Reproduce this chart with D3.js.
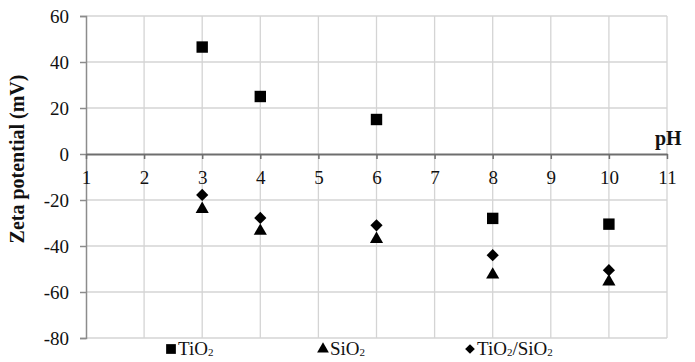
<!DOCTYPE html>
<html>
<head>
<meta charset="utf-8">
<script src="https://cdn.jsdelivr.net/npm/d3@7"></script>
<style>
  body { margin: 0; background: #fff; }
  svg text { font-family: "Liberation Serif", "Times New Roman", serif !important; }
</style>
</head>
<body>
<div id="chart"></div>
<script>
const pH = [3, 4, 6, 8, 10];
const tio2 = [46.5, 25, 15, -28, -30.5];
const sio2 = [-24, -33.5, -37, -52.5, -55.5];
const tio2sio2 = [-17.8, -27.8, -31, -44, -50.5];
const xTicks = d3.range(1, 12);
const yTicks = [60, 40, 20, 0, -20, -40, -60, -80];

const width = 695, height = 362;
const marginLeft = 86, marginRight = 28, marginTop = 16, marginBottom = 24;

const x = d3.scaleLinear([1, 11], [marginLeft, width - marginRight]);
const y = d3.scaleLinear([-80, 60], [height - marginBottom, marginTop]);

const svg = d3.select("#chart").append("svg")
    .attr("width", width)
    .attr("height", height)
    .attr("viewBox", [0, 0, width, height]);

// grid
svg.append("g")
    .attr("stroke", "#d4d4d4")
    .attr("stroke-width", 1.3)
  .call(g => g.selectAll("line.h")
    .data(yTicks.filter(d => d !== 0))
    .join("line")
      .attr("x1", marginLeft).attr("x2", x(11))
      .attr("y1", d => y(d)).attr("y2", d => y(d)))
  .call(g => g.selectAll("line.v")
    .data(xTicks.slice(1))
    .join("line")
      .attr("x1", d => x(d)).attr("x2", d => x(d))
      .attr("y1", y(60)).attr("y2", y(-80)));

// y axis
svg.append("g")
    .attr("transform", `translate(${marginLeft},0)`)
    .call(d3.axisLeft(y).tickValues(yTicks).tickFormat(d => String(d)).tickSize(6).tickPadding(11))
    .call(g => g.selectAll("path, line").attr("stroke", "#8c8c8c").attr("stroke-width", 1.5))
    .call(g => g.selectAll("text").attr("font-size", 19).attr("fill", "#111"));

// x axis along zero
svg.append("g")
    .attr("transform", `translate(0,${y(0)})`)
    .call(d3.axisBottom(x).tickValues(xTicks).tickSize(5).tickSizeOuter(0).tickPadding(12))
    .call(g => g.select(".domain").attr("stroke", "#6e6e6e").attr("stroke-width", 2))
    .call(g => g.selectAll(".tick line").attr("stroke", "#6e6e6e").attr("stroke-width", 1.5))
    .call(g => g.selectAll("text").attr("font-size", 19).attr("fill", "#111"));

svg.append("text")
    .attr("x", x(11) - 12)
    .attr("y", y(0) - 9)
    .attr("font-size", 20)
    .attr("font-weight", "bold")
    .attr("fill", "#111")
    .text("pH");

svg.append("text")
    .attr("transform", `translate(24,${(y(60) + y(-80)) / 2 - 18}) rotate(-90)`)
    .attr("text-anchor", "middle")
    .attr("font-size", 20)
    .attr("font-weight", "bold")
    .attr("fill", "#111")
    .text("Zeta potential (mV)");

const series = [
  {name: "TiO", sub: "2", rest: "", values: tio2, symbol: d3.symbolSquare, size: 130, lsize: 95, lx: 171},
  {name: "SiO", sub: "2", rest: "", values: sio2, symbol: d3.symbolTriangle, size: 75, lsize: 60, lx: 323},
  {name: "TiO", sub: "2", rest: "/SiO", sub2: "2", values: tio2sio2, symbol: d3.symbolDiamond2, size: 95, lsize: 60, lx: 470}
];

for (const s of series) {
  const sym = d3.symbol(s.symbol, s.size);
  svg.append("g")
    .selectAll("path")
    .data(pH.map((p, i) => [p, s.values[i]]))
    .join("path")
      .attr("transform", d => `translate(${x(d[0])},${y(d[1])})`)
      .attr("d", sym)
      .attr("fill", "#000");

  svg.append("path")
      .attr("transform", `translate(${s.lx},${349})`)
      .attr("d", d3.symbol(s.symbol, s.lsize))
      .attr("fill", "#000");

  const t = svg.append("text")
      .attr("x", s.lx + 7)
      .attr("y", 355)
      .attr("font-size", 19)
      .attr("fill", "#111");
  t.append("tspan").text(s.name);
  t.append("tspan").attr("font-size", 11).attr("dy", 1).text(s.sub);
  if (s.rest) {
    t.append("tspan").attr("dy", -1).text(s.rest);
    t.append("tspan").attr("font-size", 11).attr("dy", 1).text(s.sub2);
  }
}
</script>
</body>
</html>
